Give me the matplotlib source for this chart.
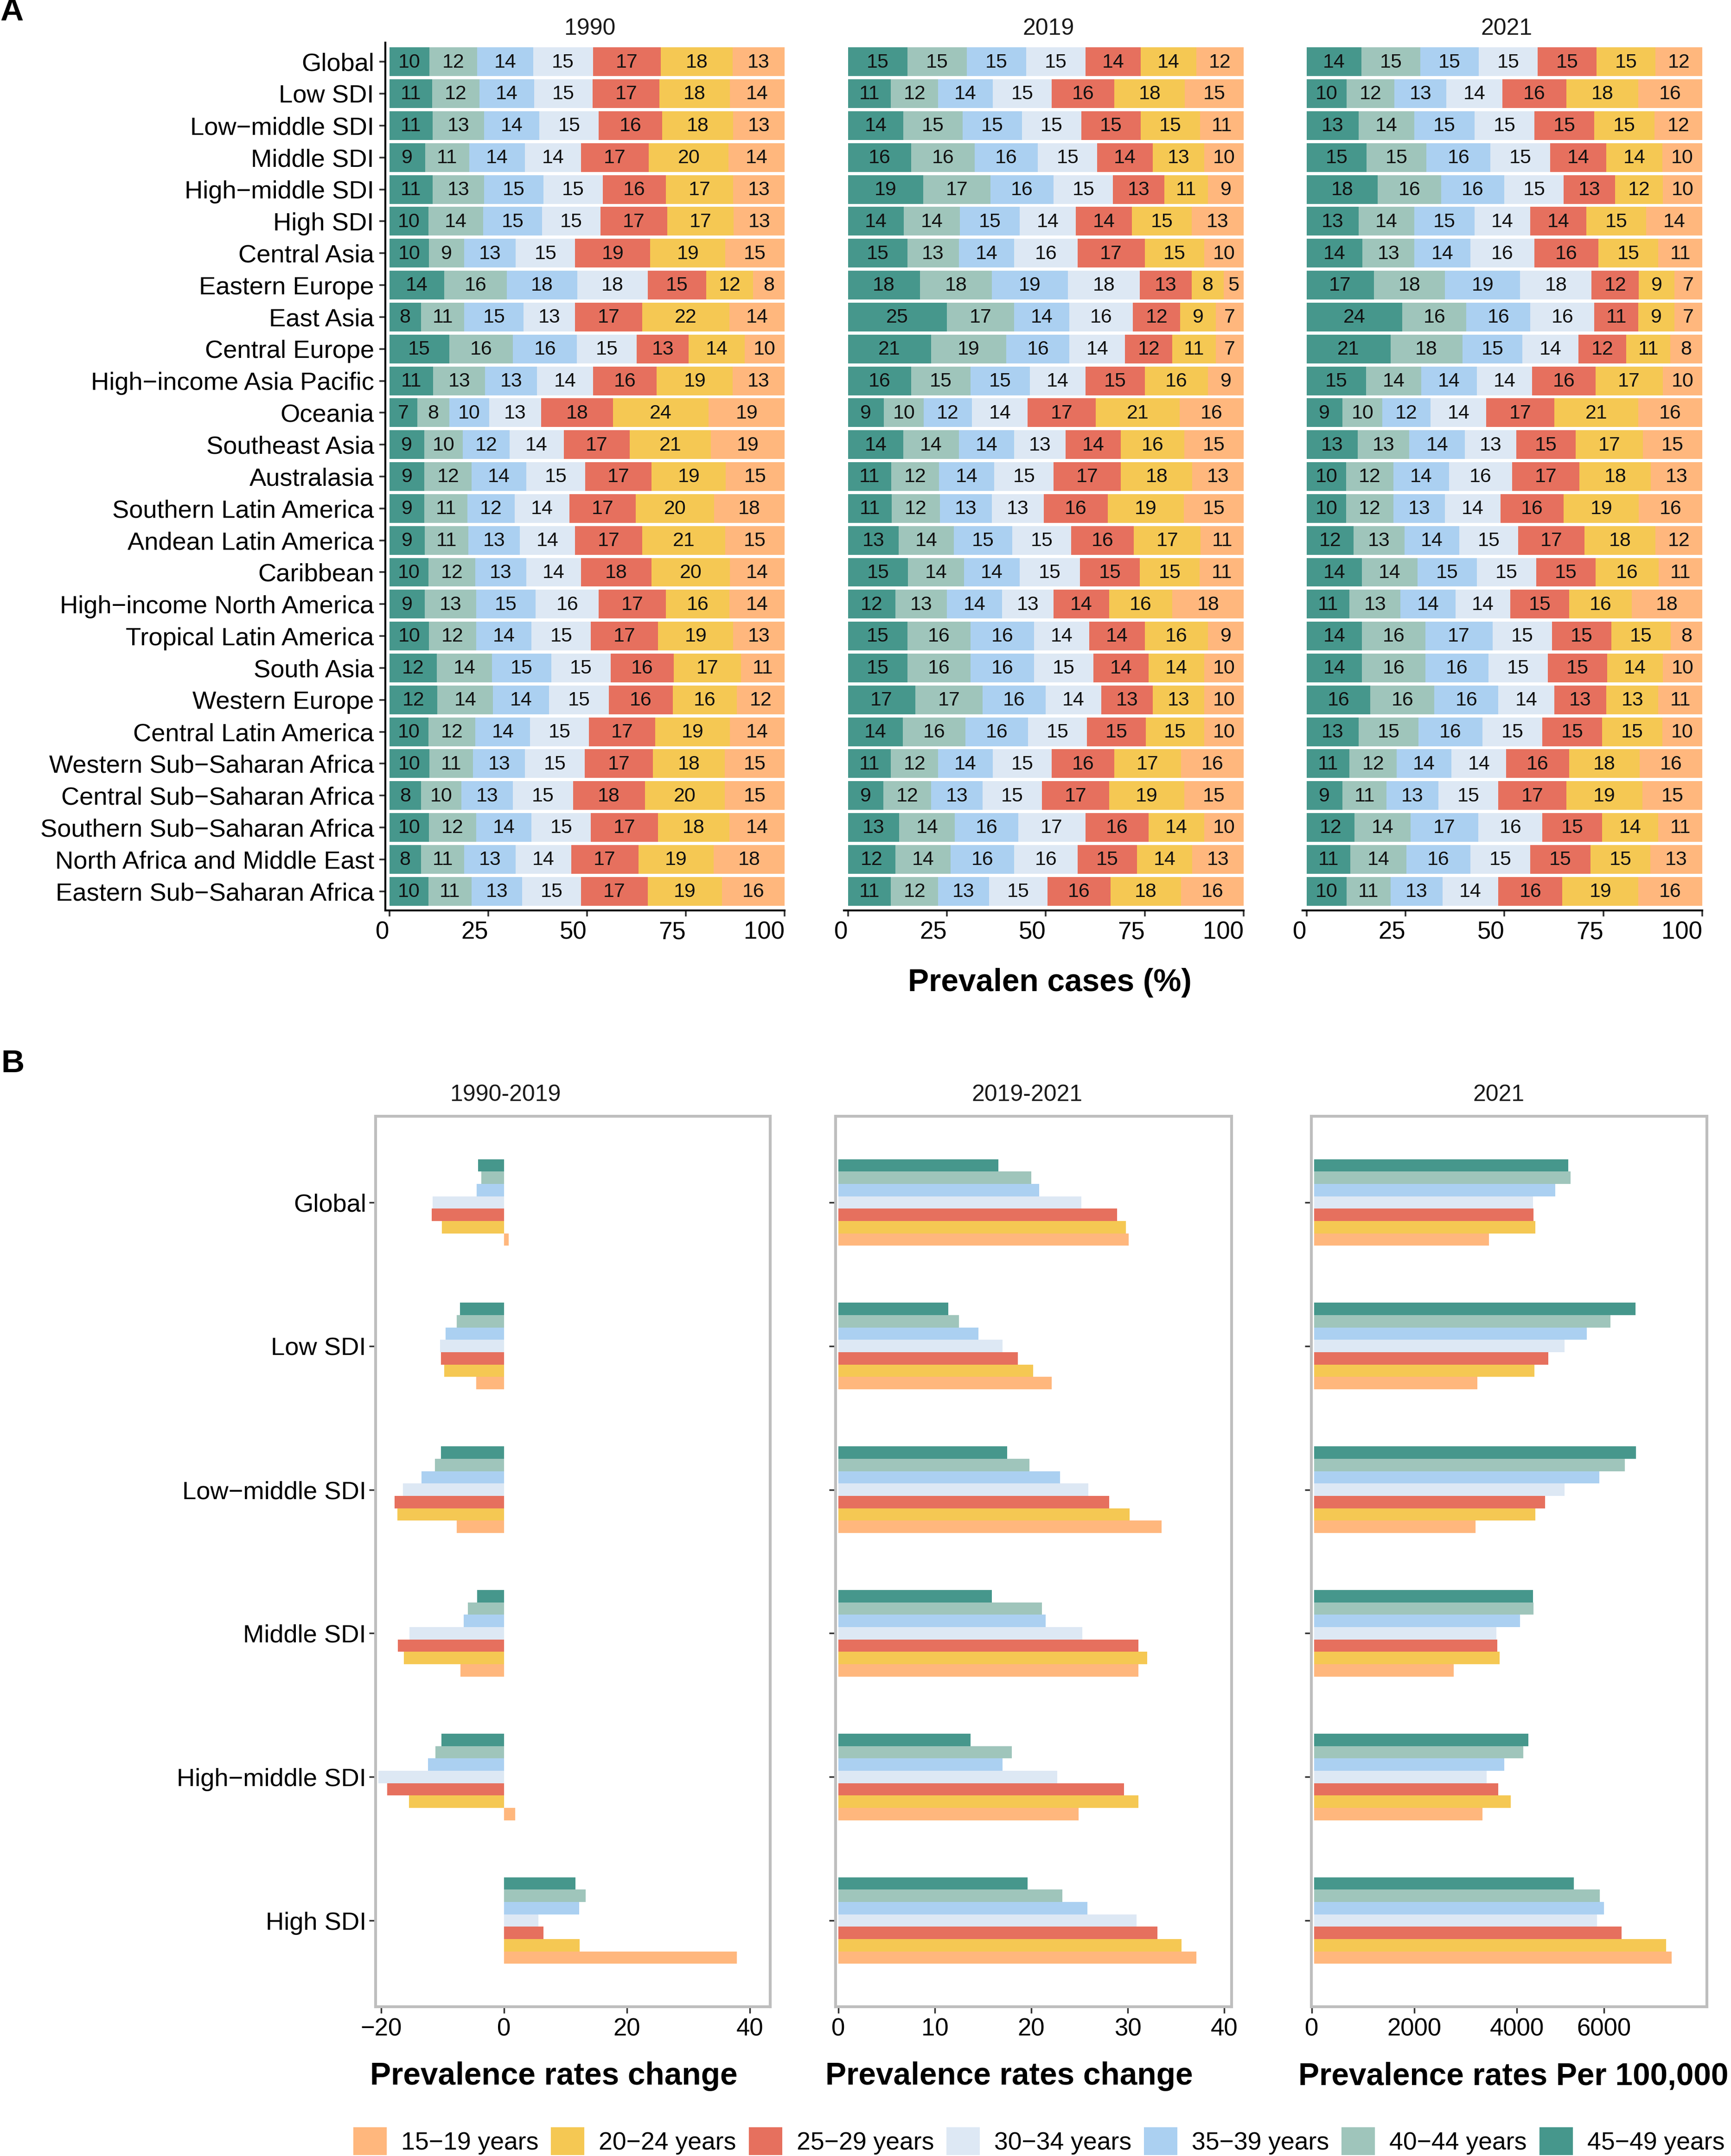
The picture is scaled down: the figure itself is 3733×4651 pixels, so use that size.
import matplotlib
matplotlib.use("Agg")
import matplotlib.pyplot as plt
from matplotlib.patches import Patch
from matplotlib.transforms import ScaledTranslation

plt.rcParams['font.family'] = ['Liberation Sans', 'DejaVu Sans']

W, H = 3733, 4651
DPI = 100

regions = ["Global", "Low SDI", "Low\u2212middle SDI", "Middle SDI", "High\u2212middle SDI", "High SDI",
           "Central Asia", "Eastern Europe", "East Asia", "Central Europe", "High\u2212income Asia Pacific",
           "Oceania", "Southeast Asia", "Australasia", "Southern Latin America", "Andean Latin America",
           "Caribbean", "High\u2212income North America", "Tropical Latin America", "South Asia",
           "Western Europe", "Central Latin America", "Western Sub\u2212Saharan Africa",
           "Central Sub\u2212Saharan Africa", "Southern Sub\u2212Saharan Africa",
           "North Africa and Middle East", "Eastern Sub\u2212Saharan Africa"]
sdi_groups = regions[:6]

# oldest age group first: the order of the bars from left to right / top to bottom
ages = ["45\u221249 years", "40\u221244 years", "35\u221239 years", "30\u221234 years",
        "25\u221229 years", "20\u221224 years", "15\u221219 years"]
colors = ["#46978C", "#9FC5BB", "#ABD0F1", "#DDE8F4", "#E6705E", "#F5C853", "#FFB77D"]

share_1990 = [
    [10, 12, 14, 15, 17, 18, 13], [11, 12, 14, 15, 17, 18, 14], [11, 13, 14, 15, 16, 18, 13],
    [9, 11, 14, 14, 17, 20, 14], [11, 13, 15, 15, 16, 17, 13], [10, 14, 15, 15, 17, 17, 13],
    [10, 9, 13, 15, 19, 19, 15], [14, 16, 18, 18, 15, 12, 8], [8, 11, 15, 13, 17, 22, 14],
    [15, 16, 16, 15, 13, 14, 10], [11, 13, 13, 14, 16, 19, 13], [7, 8, 10, 13, 18, 24, 19],
    [9, 10, 12, 14, 17, 21, 19], [9, 12, 14, 15, 17, 19, 15], [9, 11, 12, 14, 17, 20, 18],
    [9, 11, 13, 14, 17, 21, 15], [10, 12, 13, 14, 18, 20, 14], [9, 13, 15, 16, 17, 16, 14],
    [10, 12, 14, 15, 17, 19, 13], [12, 14, 15, 15, 16, 17, 11], [12, 14, 14, 15, 16, 16, 12],
    [10, 12, 14, 15, 17, 19, 14], [10, 11, 13, 15, 17, 18, 15], [8, 10, 13, 15, 18, 20, 15],
    [10, 12, 14, 15, 17, 18, 14], [8, 11, 13, 14, 17, 19, 18], [10, 11, 13, 15, 17, 19, 16]]
share_2019 = [
    [15, 15, 15, 15, 14, 14, 12], [11, 12, 14, 15, 16, 18, 15], [14, 15, 15, 15, 15, 15, 11],
    [16, 16, 16, 15, 14, 13, 10], [19, 17, 16, 15, 13, 11, 9], [14, 14, 15, 14, 14, 15, 13],
    [15, 13, 14, 16, 17, 15, 10], [18, 18, 19, 18, 13, 8, 5], [25, 17, 14, 16, 12, 9, 7],
    [21, 19, 16, 14, 12, 11, 7], [16, 15, 15, 14, 15, 16, 9], [9, 10, 12, 14, 17, 21, 16],
    [14, 14, 14, 13, 14, 16, 15], [11, 12, 14, 15, 17, 18, 13], [11, 12, 13, 13, 16, 19, 15],
    [13, 14, 15, 15, 16, 17, 11], [15, 14, 14, 15, 15, 15, 11], [12, 13, 14, 13, 14, 16, 18],
    [15, 16, 16, 14, 14, 16, 9], [15, 16, 16, 15, 14, 14, 10], [17, 17, 16, 14, 13, 13, 10],
    [14, 16, 16, 15, 15, 15, 10], [11, 12, 14, 15, 16, 17, 16], [9, 12, 13, 15, 17, 19, 15],
    [13, 14, 16, 17, 16, 14, 10], [12, 14, 16, 16, 15, 14, 13], [11, 12, 13, 15, 16, 18, 16]]
share_2021 = [
    [14, 15, 15, 15, 15, 15, 12], [10, 12, 13, 14, 16, 18, 16], [13, 14, 15, 15, 15, 15, 12],
    [15, 15, 16, 15, 14, 14, 10], [18, 16, 16, 15, 13, 12, 10], [13, 14, 15, 14, 14, 15, 14],
    [14, 13, 14, 16, 16, 15, 11], [17, 18, 19, 18, 12, 9, 7], [24, 16, 16, 16, 11, 9, 7],
    [21, 18, 15, 14, 12, 11, 8], [15, 14, 14, 14, 16, 17, 10], [9, 10, 12, 14, 17, 21, 16],
    [13, 13, 14, 13, 15, 17, 15], [10, 12, 14, 16, 17, 18, 13], [10, 12, 13, 14, 16, 19, 16],
    [12, 13, 14, 15, 17, 18, 12], [14, 14, 15, 15, 15, 16, 11], [11, 13, 14, 14, 15, 16, 18],
    [14, 16, 17, 15, 15, 15, 8], [14, 16, 16, 15, 15, 14, 10], [16, 16, 16, 14, 13, 13, 11],
    [13, 15, 16, 15, 15, 15, 10], [11, 12, 14, 14, 16, 18, 16], [9, 11, 13, 15, 17, 19, 15],
    [12, 14, 17, 16, 15, 14, 11], [11, 14, 16, 15, 15, 15, 13], [10, 11, 13, 14, 16, 19, 16]]

change_1990_2019 = [
    [-4.2, -3.7, -4.45, -11.6, -11.8, -10.1, 0.75],
    [-7.2, -7.7, -9.5, -10.4, -10.25, -9.75, -4.5],
    [-10.25, -11.25, -13.45, -16.5, -17.8, -17.4, -7.7],
    [-4.4, -5.9, -6.55, -15.4, -17.3, -16.3, -7.1],
    [-10.2, -11.2, -12.4, -20.5, -19.0, -15.5, 1.85],
    [11.6, 13.3, 12.2, 5.6, 6.45, 12.3, 37.9]]
change_2019_2021 = [
    [16.6, 20.0, 20.8, 25.2, 28.9, 29.8, 30.1],
    [11.4, 12.5, 14.5, 17.0, 18.6, 20.2, 22.1],
    [17.5, 19.8, 23.0, 25.9, 28.1, 30.2, 33.5],
    [15.9, 21.1, 21.5, 25.3, 31.1, 32.0, 31.1],
    [13.7, 18.0, 17.0, 22.7, 29.6, 31.1, 24.9],
    [19.6, 23.2, 25.8, 30.9, 33.1, 35.6, 37.1]]
rate_2021 = [
    [5255, 5304, 4988, 4527, 4539, 4576, 3617],
    [6651, 6129, 5644, 5182, 4843, 4563, 3374],
    [6663, 6433, 5899, 5182, 4782, 4576, 3338],
    [4527, 4539, 4260, 3775, 3787, 3835, 2889],
    [4430, 4333, 3932, 3568, 3811, 4066, 3483],
    [5377, 5911, 5996, 5850, 6360, 7282, 7404]]

panel_a_titles = ["1990", "2019", "2021"]
panel_b_titles = ["1990-2019", "2019-2021", "2021"]
panel_b_xlabels = ["Prevalence rates change", "Prevalence rates change", "Prevalence rates Per 100,000"]
panel_b_ticks = [[-20, 0, 20, 40], [0, 10, 20, 30, 40], [-48, 2073, 4194, 6000]]
panel_b_ticklabels = [["\u221220", "0", "20", "40"], ["0", "10", "20", "30", "40"],
                      ["0", "2000", "4000", "6000"]]
panel_a_ticks = [0, 25, 50, 75, 100]

fig = plt.figure(figsize=(W / DPI, H / DPI), dpi=DPI, facecolor="white")


def make_axes(left, top, right, bottom):
    return fig.add_axes([left / W, 1 - bottom / H, (right - left) / W, (bottom - top) / H])


def shift(label, dx_px):
    label.set_transform(label.get_transform() + ScaledTranslation(dx_px / DPI, 0, fig.dpi_scale_trans))


TICK = 38
YTICK = 39.2
LEG = 38.5
BAR = 31
TITLE = 36
AXLAB = 48.7
DARK = "#333333"

# ---------- panel A ----------
a_boxes = [(831, 1692), (1820, 2682), (2809, 3671)]
a_title_x = [1272, 2261, 3249]
a_data = [share_1990, share_2019, share_2021]
A_TOP, A_BOTTOM = 92, 1964
for p, ((l, r), table) in enumerate(zip(a_boxes, a_data)):
    ax = make_axes(l, A_TOP, r, A_BOTTOM)
    for i, row in enumerate(table):
        total = sum(row)
        start = 0
        for value, color in zip(row, colors):
            width = value / total * 100
            ax.barh(i, width, left=start, height=0.9, color=color, linewidth=0)
            ax.text(start + width / 2, i + 0.02, str(value), ha="center", va="center",
                    fontsize=BAR, color="#111111")
            start += width
    ax.set_xlim(-1.0, 100)
    ax.set_ylim(len(regions) - 0.4, -0.6)
    ax.set_xticks(panel_a_ticks)
    ax.set_xticklabels([str(t) for t in panel_a_ticks], ha="right")
    for lab in ax.get_xticklabels():
        shift(lab, -1)
    ax.tick_params(axis="x", length=9.5, width=2.6, color=DARK, labelsize=TICK, pad=6.5, labelcolor="black")
    for s in ["top", "right"]:
        ax.spines[s].set_visible(False)
    ax.spines["bottom"].set_linewidth(3)
    if p == 0:
        ax.spines["left"].set_linewidth(3)
        ax.set_yticks(range(len(regions)))
        ax.set_yticklabels(regions)
        ax.tick_params(axis="y", length=9.5, width=2.6, color=DARK, labelsize=YTICK, pad=8, labelcolor="black")
    else:
        ax.spines["left"].set_visible(False)
        ax.set_yticks([])
    ax.set_title(panel_a_titles[p], x=(a_title_x[p] - l) / (r - l), y=(A_BOTTOM - 70) / (A_BOTTOM - A_TOP),
                 va="center", ha="center", fontsize=TITLE, color="#1a1a1a")
    if p == 1:
        ax.set_xlabel("Prevalen cases (%)", fontsize=AXLAB, fontweight="bold", va="center", ha="center")
        ax.xaxis.set_label_coords((2264 - l) / (r - l), (A_BOTTOM - 2120) / (A_BOTTOM - A_TOP))

# ---------- panel B ----------
b_boxes = [(810, 1661), (1802, 2656), (2828, 3681)]
b_xlims = [(-20.92, 43.35), (-0.29, 40.77), (-57.6, 8129)]
b_title_x = [1090, 2215, 3232]
b_label_x = [1194, 2176, 3264]
b_label_shift = [[8, -5, -9, -12.5], [-1, 2, 1, 1, -4], [3.5, -2.4, -8, 2]]
b_data = [change_1990_2019, change_2019_2021, rate_2021]
B_TOP, B_BOTTOM = 2408, 4329
BAR_H = 26.7 / 310.3
for p, ((l, r), table) in enumerate(zip(b_boxes, b_data)):
    ax = make_axes(l, B_TOP, r, B_BOTTOM)
    for i, row in enumerate(table):
        for k, (value, color) in enumerate(zip(row, colors)):
            ax.barh(i + (k - 3) * BAR_H, value, height=BAR_H, color=color, linewidth=0)
    ax.set_xlim(*b_xlims[p])
    ax.set_ylim(len(sdi_groups) - 0.4, -0.6)
    ax.set_xticks(panel_b_ticks[p])
    ax.set_xticklabels(panel_b_ticklabels[p])
    for lab, dx in zip(ax.get_xticklabels(), b_label_shift[p]):
        shift(lab, dx)
    ax.tick_params(axis="x", length=10, width=2.5, color=DARK, labelsize=TICK, pad=7, labelcolor="black")
    ax.set_yticks(range(len(sdi_groups)))
    if p == 0:
        ax.set_yticklabels(sdi_groups)
    else:
        ax.set_yticklabels([])
    ax.tick_params(axis="y", length=10, width=2.5, color=DARK, labelsize=YTICK, pad=4.5, labelcolor="black")
    for s in ax.spines.values():
        s.set_color("#BEBEBE")
        s.set_linewidth(4.4)
    ax.set_title(panel_b_titles[p], x=(b_title_x[p] - l) / (r - l), y=(B_BOTTOM - 2370) / (B_BOTTOM - B_TOP),
                 va="center", ha="center", fontsize=TITLE, color="#1a1a1a")
    ax.set_xlabel(panel_b_xlabels[p], fontsize=AXLAB, fontweight="bold", va="center", ha="center")
    ax.xaxis.set_label_coords((b_label_x[p] - l) / (r - l), (B_BOTTOM - 4479) / (B_BOTTOM - B_TOP))

# ---------- panel letters ----------
fig.text(0 / W, 1 - 26 / H, "A", fontsize=50, fontweight="bold", ha="left", va="center")
fig.text(2 / W, 1 - 2295 / H, "B", fontsize=50, fontweight="bold", ha="left", va="center")

# ---------- legend ----------
handles = [Patch(facecolor=c, edgecolor="none", label=a) for a, c in zip(ages[::-1], colors[::-1])]
fig.legend(handles=handles, loc="lower left", bbox_to_anchor=(762 / W, 1 - 4649 / H), ncol=7, frameon=False,
           fontsize=LEG, borderpad=0, borderaxespad=0, handlelength=1.346, handleheight=1.346,
           handletextpad=0.58, columnspacing=0.505)

fig.savefig("out.png", dpi=DPI, facecolor="white")
